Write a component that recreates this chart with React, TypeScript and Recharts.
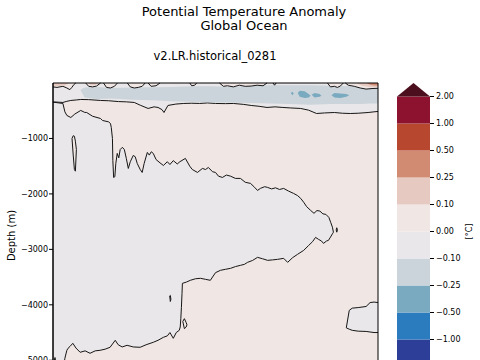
import React from 'react';
import {
  ComposedChart,
  Area,
  XAxis,
  YAxis,
  CartesianGrid,
  ReferenceArea,
  BarChart,
  Bar,
} from 'recharts';

// contour levels of the colorbar (deg C) and their fill colours
const levels = [-1, -0.5, -0.25, -0.1, 0, 0.1, 0.25, 0.5, 1, 2];
const bandColors = [
  '#2d3e98', '#2b7bbf', '#7aaabf', '#cbd4da', '#e9e7e9',
  '#f0e6e4', '#e6c9c1', '#d28b73', '#b7472f', '#8c1230',
];
const lowTriColor = '#1d2466';
const highTriColor = '#4b0f1e';

const GREY = '#e9e7e9';
const PINK = '#f0e6e4';
const LINE = '#161616';

// upper zero contour below the surface band: [year, depth]
const topContour = [
  [1850, -340], [1855, -351], [1857, -330], [1859, -315], [1862, -305], [1864, -297], [1868, -300],
  [1874, -315], [1878, -320], [1883, -335], [1887, -340], [1891, -351], [1894, -400], [1898, -459],
  [1901, -430], [1903, -441], [1905, -480], [1906, -532], [1908, -405], [1912, -380], [1916, -369],
  [1920, -365], [1924, -369], [1928, -360], [1932, -369], [1937, -372], [1941, -369], [1946, -385],
  [1950, -405], [1954, -420], [1958, -441], [1962, -430], [1966, -441], [1970, -450], [1975, -459],
  [1979, -490], [1983, -550], [1987, -540], [1992, -532], [1996, -545], [2000, -550], [2004, -545],
  [2009, -532], [2012, -520], [2014, -513],
];

// top of the deep cold tongue
const tongueTop = [
  [1850, -345], [1855, -369], [1856, -520], [1857, -585], [1859, -622], [1861, -560], [1864, -495],
  [1866, -530], [1867, -532], [1870, -600], [1874, -640], [1875, -676], [1878, -700], [1879, -730],
  [1879.4, -800], [1880, -1000], [1880.2, -1400], [1880.6, -1703], [1881.2, -1690], [1881.7, -1450],
  [1882.4, -1270], [1883.2, -1350], [1883.9, -1200], [1885, -1160], [1886, -1200], [1887, -1360],
  [1888, -1541], [1889, -1420], [1890.5, -1306], [1891.5, -1330], [1892.5, -1450], [1894, -1560],
  [1895, -1613], [1896, -1450], [1897.6, -1252], [1898.6, -1300], [1899.6, -1240], [1900.6, -1270],
  [1902, -1380], [1904, -1440], [1905.7, -1487], [1907.7, -1420], [1909, -1470], [1910.7, -1400],
  [1912.7, -1460], [1914, -1420], [1916.8, -1360], [1919, -1500], [1920.3, -1560], [1922.9, -1613],
  [1925.4, -1541], [1927, -1560], [1928.4, -1523], [1930.5, -1600], [1932, -1613], [1933.5, -1680],
  [1935.5, -1703], [1937.5, -1660], [1939.6, -1680], [1942, -1720], [1944.6, -1721], [1947, -1790],
  [1949.7, -1811], [1951.7, -1880], [1953.2, -1937], [1954.7, -1900], [1956.8, -1870], [1958.3, -1883],
  [1960.3, -1910], [1962.3, -1890], [1964.3, -1920], [1966.4, -1901], [1968.9, -1950], [1971.4, -1991],
  [1973.4, -2030], [1975, -2081], [1976.5, -2150], [1978, -2230], [1980, -2297], [1981.7, -2350],
  [1983.2, -2300], [1984.7, -2310], [1986.2, -2360], [1987.7, -2369], [1989.2, -2423], [1990.2, -2520],
  [1991, -2600], [1991.5, -2690],
];

// bottom of the deep cold tongue
const tongueBottom = [
  [1850, -5100], [1851, -4950], [1852, -5150], [1854, -5250], [1855.3, -5150], [1856, -4964],
  [1857, -4820], [1857.6, -4784], [1858.6, -4750], [1860, -4694], [1861.6, -4780], [1863.7, -4856],
  [1866.2, -4830], [1868.7, -4874], [1871.3, -4830], [1873.8, -4820], [1876.3, -4800], [1878.8, -4766],
  [1881.4, -4640], [1882.9, -4720], [1884.9, -4760], [1887.4, -4730], [1890.5, -4760], [1894, -4766],
  [1897, -4720], [1900.6, -4676], [1903, -4640], [1905.7, -4586], [1907.7, -4560], [1909, -4500],
  [1910.7, -4604], [1912.2, -4500], [1913.7, -4460], [1914.2, -4400], [1914.5, -4250], [1914.8, -4045],
  [1915.1, -3800], [1915.3, -3613], [1917.3, -3590], [1919.3, -3558], [1921.9, -3530], [1924.4, -3522],
  [1926.9, -3540], [1929.4, -3558], [1932, -3420], [1934.5, -3378], [1937, -3360], [1939.6, -3342],
  [1942.1, -3310], [1944.6, -3288], [1946.6, -3270], [1948.2, -3234], [1950.7, -3200], [1953.2, -3144],
  [1955.8, -3170], [1958.3, -3198], [1960.8, -3190], [1963.3, -3180], [1966.4, -3162], [1968.4, -3234],
  [1970.9, -3150], [1973.4, -3090], [1976.5, -3018], [1979, -2930], [1981, -2860], [1982.5, -2784],
  [1984, -2820], [1985.5, -2850], [1986.5, -2892], [1988, -2850], [1989, -2838], [1990, -2780],
  [1991, -2720], [1991.5, -2690],
];

// cold patch at depth on the right: [year, lower, upper]
const deepIsland = [
  [1998, -4415, -4415], [1999.5, -4440, -4100], [2001, -4460, -4060], [2004, -4475, -4050],
  [2008, -4480, -4030], [2010, -4490, -3960], [2012, -4500, -3950], [2014, -4500, -3960],
];

// small closed contours
const smallLoops = [
  // warm sliver inside the tongue
  { fill: PINK, pts: [[1859.6, -1000, -1000], [1860.2, -1300, -950], [1860.8, -1560, -960], [1861.3, -1590, -1050], [1861.8, -1200, -1200]] },
  { fill: PINK, pts: [[1908.9, -3840, -3840], [1909.2, -3940, -3830], [1909.5, -3900, -3900]] },
  { fill: PINK, pts: [[1915.5, -4300, -4300], [1916.3, -4430, -4250], [1917.2, -4400, -4320], [1917.6, -4360, -4360]] },
  { fill: GREY, pts: [[1992.9, -2650, -2650], [1993.2, -2690, -2610], [1993.5, -2650, -2650]] },
];

// -0.25..-0.1 band near the surface: [year, lower, upper]
const coolBand = [
  [1864, -140, -120], [1866, -260, -80], [1872, -290, -70], [1880, -280, -90], [1890, -300, -80],
  [1900, -310, -75], [1910, -330, -70], [1920, -340, -60], [1930, -345, -60], [1940, -350, -70],
  [1950, -360, -50], [1960, -370, -40], [1970, -380, -40], [1980, -390, -40], [1990, -380, -50],
  [2000, -380, -60], [2005, -380, -90], [2010, -370, -110], [2014, -370, -110],
];

// -0.5..-0.25 patches
const coldPatches = [
  [[1970, -180, -180], [1970.8, -220, -160], [1971.5, -190, -190]],
  [[1973.5, -180, -180], [1974.5, -250, -140], [1977, -270, -150], [1979, -260, -200], [1980, -230, -230]],
  [[1980.5, -210, -210], [1982, -260, -180], [1984.5, -250, -200], [1985.5, -230, -230]],
  [[1990.5, -220, -220], [1992, -260, -180], [1995, -270, -190], [1998, -250, -200], [1999.5, -220, -220]],
];

// warm (0..0.1) patches at the surface, outlined by the zero contour
const warmPatches = [
  [[1850, -70], [1852, -80], [1855, -60], [1857, -90], [1858.5, -120], [1859.5, -80], [1860.5, -30], [1861.5, 0]],
  [[1866.5, 0], [1868, -60], [1870, -70], [1872, -55], [1874, 0]],
  [[1875.5, 0], [1877, -80], [1879, -90], [1881, -60], [1882.5, 0]],
  [[1887.5, 0], [1889, -70], [1891, -90], [1893, -80], [1895, -60], [1896.5, 0]],
  [[1898, 0], [1899.5, -60], [1902, -50], [1904, 0]],
  [[1919, 0], [1920, -50], [1921.5, -40], [1922.5, 0]],
  [[1934, 0], [1936, -60], [1938, -50], [1941, -70], [1944, -40], [1947, -60], [1950, -55], [1953, -40], [1956, -50], [1958, 0]],
  [[1961, 0], [1961.8, -40], [1962.6, 0]],
  [[1988.5, 0], [1990, -70], [1992, -60], [1993.5, -80], [1995, -55], [1996.5, 0]],
  [[1997.5, 0], [1999, -40], [2002, -60], [2005, -90], [2008, -110], [2011, -100], [2014, -95]],
];

// warmer surface patches (0.1..0.25 and 0.25..0.5)
const hotPatches = [
  { fill: '#e6c9c1', pts: [[1850, -50], [1853, -55], [1856, -45], [1858, 0]] },
  { fill: '#e6c9c1', pts: [[1867.5, 0], [1869, -35], [1871, -40], [1873, 0]] },
  { fill: '#e6c9c1', pts: [[2003, 0], [2006, -50], [2010, -70], [2014, -75]] },
  { fill: '#d28b73', pts: [[2008, 0], [2010, -30], [2012, -45], [2014, -50]] },
];

const depthTicks = [-5000, -4000, -3000, -2000, -1000];
const yearTicks = [1860, 1880, 1900, 1920, 1940, 1960, 1980, 2000];

const toLine = (pts: number[][]) => pts.map(([t, d]) => ({ t, d }));
const toRange = (pts: number[][]) => pts.map(([t, lo, hi]) => ({ t, v: [lo, hi] }));
const minus = (v: number) => String(v).replace('-', '\u2212');

const FONT = '"DejaVu Sans", sans-serif';

const Triangle = (up: boolean, color: string) => (props: any) => {
  const { x, y, width, height } = props;
  const pts = up
    ? `${x},${y + height} ${x + width},${y + height} ${x + width / 2},${y}`
    : `${x},${y} ${x + width},${y} ${x + width / 2},${y + height}`;
  return <polygon points={pts} fill={color} />;
};

const TRI = 0.5;
const cbRow: Record<string, any> = { name: 'cb', lowTri: TRI, highTri: TRI };
bandColors.forEach((_, i) => (cbRow[`b${i}`] = 1));
const cbTicks = levels.map((_, i) => TRI + 1 + i);

export default function App() {
  return (
    <div style={{ position: 'fixed', left: 0, top: 0, width: 480, height: 360, overflow: 'hidden', background: '#fff', fontFamily: FONT }}>
      <div style={{ position: 'absolute', left: 0, top: 5, width: 488, textAlign: 'center', fontSize: 13, lineHeight: '14px', color: '#000' }}>
        Potential Temperature Anomaly<br />Global Ocean
      </div>
      <div style={{ position: 'absolute', left: 0, top: 49, width: 430, textAlign: 'center', fontSize: 11.5, lineHeight: '14px', color: '#000' }}>
        v2.LR.historical_0281
      </div>

      <div style={{ position: 'absolute', left: 0, top: 0 }}>
        <ComposedChart width={390} height={440} margin={{ top: 83, right: 12, bottom: 52, left: 0 }}>
          <CartesianGrid horizontal={false} vertical={false} fill={PINK} />
          <XAxis dataKey="t" type="number" domain={[1850, 2014]} ticks={yearTicks} hide />
          <YAxis
            type="number"
            domain={[-5500, 0]}
            ticks={depthTicks}
            width={53}
            tickFormatter={minus}
            tick={{ fontSize: 8, fill: '#000', fontFamily: FONT }}
            tickSize={4}
            tickMargin={1}
            stroke="#000"
            label={{ value: 'Depth (m)', angle: -90, position: 'center', dx: -15, style: { fontSize: 10, fill: '#000', fontFamily: FONT } }}
          />

          <Area data={toLine(tongueTop)} dataKey="d" type="linear" baseValue={-5500} fill={GREY} fillOpacity={1} stroke={LINE} strokeWidth={1} dot={false} activeDot={false} isAnimationActive={false} />
          <Area data={toLine(tongueBottom)} dataKey="d" type="linear" baseValue={-5500} fill={PINK} fillOpacity={1} stroke={LINE} strokeWidth={1} dot={false} activeDot={false} isAnimationActive={false} />
          <Area data={toRange(deepIsland)} dataKey="v" type="linear" fill={GREY} fillOpacity={1} stroke={LINE} strokeWidth={1} dot={false} activeDot={false} isAnimationActive={false} />
          {smallLoops.map((l, i) => (
            <Area key={`loop${i}`} data={toRange(l.pts)} dataKey="v" type="linear" fill={l.fill} fillOpacity={1} stroke={LINE} strokeWidth={1} dot={false} activeDot={false} isAnimationActive={false} />
          ))}

          <Area data={toLine(topContour)} dataKey="d" type="linear" baseValue={0} fill={GREY} fillOpacity={1} stroke={LINE} strokeWidth={1} dot={false} activeDot={false} isAnimationActive={false} />
          <Area data={toRange(coolBand)} dataKey="v" type="linear" fill={bandColors[3]} fillOpacity={1} stroke="none" dot={false} activeDot={false} isAnimationActive={false} />
          {coldPatches.map((p, i) => (
            <Area key={`cold${i}`} data={toRange(p)} dataKey="v" type="linear" fill={bandColors[2]} fillOpacity={1} stroke="none" dot={false} activeDot={false} isAnimationActive={false} />
          ))}
          {warmPatches.map((p, i) => (
            <Area key={`warm${i}`} data={toLine(p)} dataKey="d" type="linear" baseValue={0} fill={PINK} fillOpacity={1} stroke={LINE} strokeWidth={1} dot={false} activeDot={false} isAnimationActive={false} />
          ))}
          {hotPatches.map((p, i) => (
            <Area key={`hot${i}`} data={toLine(p.pts)} dataKey="d" type="linear" baseValue={0} fill={p.fill} fillOpacity={1} stroke="none" dot={false} activeDot={false} isAnimationActive={false} />
          ))}

          <ReferenceArea x1={1850} x2={2014} y1={-5500} y2={0} fill="none" stroke="#000" strokeWidth={1} ifOverflow="visible" />
        </ComposedChart>
      </div>

      <div style={{ position: 'absolute', left: 397, top: 0 }}>
        <BarChart width={83} height={400} data={[cbRow]} margin={{ top: 83, right: 0, bottom: 20, left: 0 }} barCategoryGap={0}>
          <XAxis dataKey="name" hide />
          <YAxis
            orientation="right"
            type="number"
            domain={[0, 2 * TRI + bandColors.length]}
            ticks={cbTicks}
            width={50}
            tickFormatter={(_v: number, i: number) => minus(levels[i].toFixed(2) as any)}
            tick={{ fontSize: 8, fill: '#000', fontFamily: FONT }}
            tickSize={4}
            tickMargin={2}
            axisLine={false}
            stroke="#000"
            label={{ value: '[°C]', angle: -90, position: 'center', dx: 14, style: { fontSize: 8, fill: '#000', fontFamily: FONT } }}
          />
          <Bar dataKey="lowTri" stackId="cb" shape={Triangle(false, lowTriColor)} isAnimationActive={false} />
          {bandColors.map((c, i) => (
            <Bar key={`b${i}`} dataKey={`b${i}`} stackId="cb" fill={c} isAnimationActive={false} />
          ))}
          <Bar dataKey="highTri" stackId="cb" shape={Triangle(true, highTriColor)} isAnimationActive={false} />
        </BarChart>
      </div>
    </div>
  );
}
